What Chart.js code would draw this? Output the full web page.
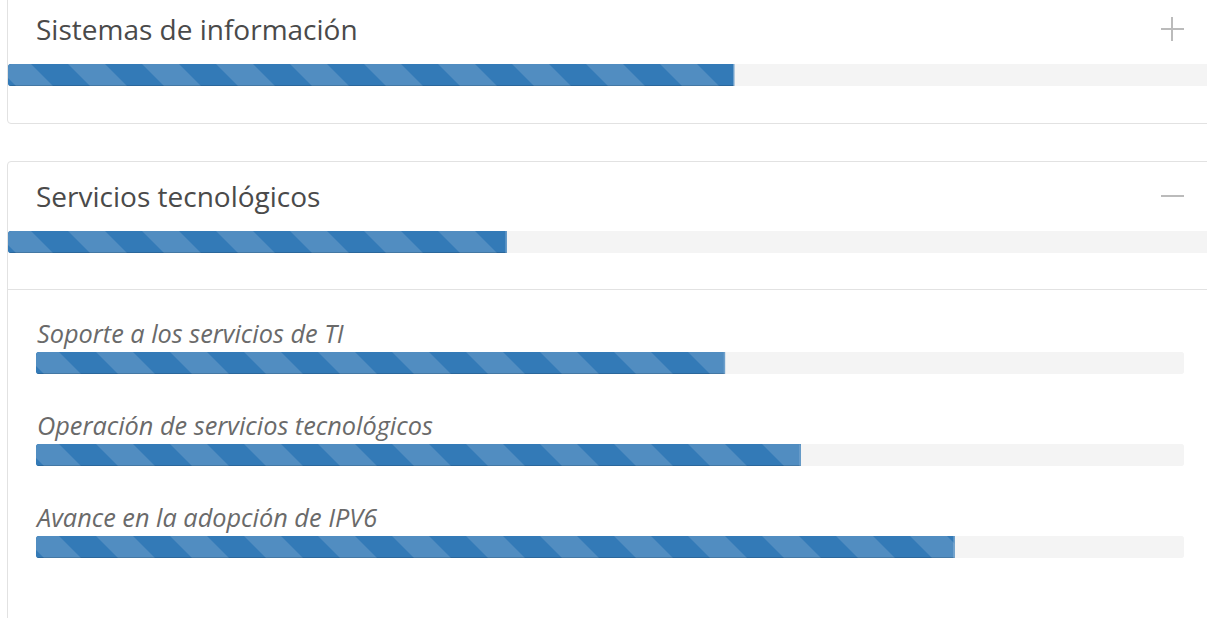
<!DOCTYPE html>
<html>
<head>
<meta charset="utf-8">
<script src="https://cdn.jsdelivr.net/npm/chart.js@4"></script>
<style>
  html, body { margin: 0; padding: 0; background: #fff; width: 1207px; height: 618px; overflow: hidden; }
  body { position: relative; font-family: "Open Sans", "Noto Sans", sans-serif; }
  .panel { position: absolute; left: 7px; width: 1210px; border: 1px solid #e2e2e2; border-radius: 4px; background: #fff; }
  .abs { position: absolute; }
  .title { font-size: 28px; line-height: 28px; color: #4a4a4a; font-weight: 400; white-space: nowrap; }
  .item { font-size: 25.3px; line-height: 25px; color: #6a6a6a; font-style: italic; font-weight: 400; white-space: nowrap; }
  .icon { position: absolute; background: #bbb; }
  .divider { position: absolute; left: 8px; width: 1210px; height: 1px; background: #e2e2e2; }
</style>
</head>
<body>
<div class="panel" style="top:-20px; height:142px;"></div>
<div class="panel" style="top:161px; height:500px;"></div>
<div class="divider" style="top:289px;"></div>

<div class="abs title" id="t0" style="left:36px; top:15px;"></div>
<div class="icon" style="left:1161px; top:28px; width:23px; height:2px;"></div>
<div class="icon" style="left:1171px; top:17px; width:2px; height:24px;"></div>
<canvas class="abs" id="g0" width="1204" height="22" style="left:8px; top:64px;"></canvas>

<div class="abs title" id="t1" style="left:36px; top:182px;"></div>
<div class="icon" style="left:1161px; top:195px; width:23px; height:2px;"></div>
<canvas class="abs" id="g1" width="1204" height="22" style="left:8px; top:231px;"></canvas>

<div class="abs item" id="s0" style="left:37px; top:321px;"></div>
<canvas class="abs" id="b0" width="1148" height="22" style="left:36px; top:352px;"></canvas>
<div class="abs item" id="s1" style="left:37px; top:413px;"></div>
<canvas class="abs" id="b1" width="1148" height="22" style="left:36px; top:444px;"></canvas>
<div class="abs item" id="s2" style="left:37px; top:505px;"></div>
<canvas class="abs" id="b2" width="1148" height="22" style="left:36px; top:536px;"></canvas>

<script>
// avance por grupo (porcentaje)
const groupLabels = ['Sistemas de información', 'Servicios tecnológicos'];
const groupValues = [60.3, 41.4];

// detalle de "Servicios tecnológicos"
const itemLabels = ['Soporte a los servicios de TI', 'Operación de servicios tecnológicos', 'Avance en la adopción de IPV6'];
const itemValues = [60, 66.6, 80];

const BAR_BLUE = '#337ab7';
const STRIPE = 'rgba(255,255,255,0.15)';
const TRACK = '#f4f4f4';
const STRIPE_PERIOD = 74;

// rayas diagonales tipo bootstrap, recortadas a la barra
const stripes = {
    id: 'stripes',
    afterDatasetsDraw(chart) {
        const bar = chart.getDatasetMeta(0).data[0];
        if (!bar) return;
        const { ctx } = chart;
        const left = bar.base, right = bar.x;
        const top = bar.y - bar.height / 2, bottom = bar.y + bar.height / 2;
        const h = bottom - top;
        const half = STRIPE_PERIOD / 2;
        ctx.save();
        ctx.beginPath();
        ctx.roundRect(left, top, right - left, h, [4, 0, 0, 4]);
        ctx.clip();
        ctx.fillStyle = STRIPE;
        for (let x0 = left - 14 - 2 * STRIPE_PERIOD; x0 < right; x0 += STRIPE_PERIOD) {
            ctx.beginPath();
            ctx.moveTo(x0, top);
            ctx.lineTo(x0 + half, top);
            ctx.lineTo(x0 + half + h, bottom);
            ctx.lineTo(x0 + h, bottom);
            ctx.closePath();
            ctx.fill();
        }
        // sombra inferior y borde final
        ctx.fillStyle = 'rgba(0,0,0,0.15)';
        ctx.fillRect(left, bottom - 1, right - left, 1);
        ctx.fillStyle = 'rgba(255,255,255,0.3)';
        ctx.fillRect(right - 1, top, 1, h);
        ctx.restore();
    }
};

function drawBar(id, value) {
    const ctx = document.getElementById(id).getContext('2d');
    new Chart(ctx, {
        type: 'bar',
        data: {
            labels: [''],
            datasets: [
                {
                    data: [value],
                    backgroundColor: BAR_BLUE,
                    borderSkipped: false,
                    borderRadius: { topLeft: 4, bottomLeft: 4, topRight: 0, bottomRight: 0 },
                    order: 0
                },
                {
                    data: [100],
                    backgroundColor: TRACK,
                    borderSkipped: false,
                    borderRadius: 4,
                    order: 1
                }
            ]
        },
        options: {
            indexAxis: 'y',
            responsive: false,
            animation: false,
            events: [],
            layout: { padding: 0 },
            datasets: { bar: { grouped: false, barPercentage: 1, categoryPercentage: 1 } },
            scales: {
                x: { display: false, min: 0, max: 100 },
                y: { display: false }
            },
            plugins: { legend: { display: false }, tooltip: { enabled: false } }
        },
        plugins: [stripes]
    });
}

groupLabels.forEach((t, i) => {
    document.getElementById('t' + i).textContent = t;
    drawBar('g' + i, groupValues[i]);
});
itemLabels.forEach((t, i) => {
    document.getElementById('s' + i).textContent = t;
    drawBar('b' + i, itemValues[i]);
});
</script>
</body>
</html>
